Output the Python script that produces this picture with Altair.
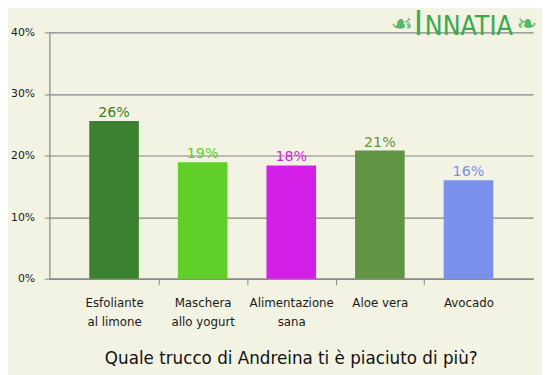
import altair as alt
import pandas as pd

categories = ["Esfoliante\nal limone", "Maschera\nallo yogurt", "Alimentazione\nsana", "Aloe vera", "Avocado"]
values = [0.256, 0.189, 0.184, 0.208, 0.160]
labels = ["26%", "19%", "18%", "21%", "16%"]
colors = ["#3a8230", "#60d028", "#d41fe8", "#629446", "#7b90ec"]
y_ticks = [0, 0.1, 0.2, 0.3, 0.4]

df = pd.DataFrame({"cat": categories, "val": values, "lab": labels, "col": colors})

W, H = 491, 250
BG = "#f3f3e3"
GRID = "#858585"
LOGO = "#3da84e"

x_enc = alt.X(
    "cat:N",
    sort=categories,
    scale=alt.Scale(paddingInner=0.44, paddingOuter=0.45),
    axis=alt.Axis(
        title=None,
        labelAngle=0,
        labelExpr="split(datum.label, '\\n')",
        labelFont="DejaVu Sans",
        labelFontSize=12,
        labelColor="#1a1a1a",
        labelLineHeight=20,
        labelPadding=13,
        labelOffset=-45,
        tickOffset=45,
        tickSize=6,
        tickColor=GRID,
        tickOpacity={"condition": {"test": "datum.value == 'Avocado'", "value": 0}, "value": 1},
        domainColor=GRID,
        domainWidth=1.2,
        grid=False,
    ),
)
y_scale = alt.Scale(domain=[0, 0.4], nice=False)

bars = alt.Chart(df).mark_bar().encode(
    x=x_enc,
    y=alt.Y(
        "val:Q",
        scale=y_scale,
        axis=alt.Axis(
            title=None,
            values=y_ticks,
            format=".0%",
            labelFont="DejaVu Sans",
            labelFontSize=11,
            labelColor="#1a1a1a",
            labelPadding=10,
            tickSize=5,
            tickColor=GRID,
            domainColor=GRID,
            domainWidth=1.2,
            gridColor=GRID,
            gridWidth=1.2,
        ),
    ),
    color=alt.Color("col:N", scale=None),
)

texts = alt.Chart(df).mark_text(
    baseline="bottom", dy=-1, font="DejaVu Sans", fontSize=14.5
).encode(
    x=alt.X("cat:N", sort=categories),
    y=alt.Y("val:Q", scale=y_scale),
    text="lab:N",
    color=alt.Color("col:N", scale=None),
)

logo_df = pd.DataFrame({"t": ["INNATIA"]})
logo_orn_l = alt.Chart(logo_df).mark_text(
    text="☙", align="right", baseline="alphabetic", font="DejaVu Sans", fontSize=25, color="#55b866"
).encode(x=alt.value(369), y=alt.value(0))
logo_big = alt.Chart(logo_df).mark_text(
    text="I", align="left", baseline="alphabetic", font="DejaVu Sans Condensed", fontSize=34, color=LOGO
).encode(x=alt.value(370), y=alt.value(3))
logo_rest = alt.Chart(logo_df).mark_text(
    text="NNATIA", align="left", baseline="alphabetic", font="DejaVu Sans Condensed", fontSize=27, color=LOGO
).encode(x=alt.value(381), y=alt.value(3))
logo_orn_r = alt.Chart(logo_df).mark_text(
    text="❧", align="left", baseline="alphabetic", font="DejaVu Sans", fontSize=25, color="#55b866"
).encode(x=alt.value(474), y=alt.value(0))

chart = (
    alt.layer(bars, texts, logo_orn_l, logo_big, logo_rest, logo_orn_r)
    .properties(
        width=W,
        height=H,
        background=BG,
        padding={"left": 42, "top": 22, "right": 9, "bottom": 95},
        autosize=alt.AutoSizeParams(type="none"),
        title=alt.TitleParams(
            "Quale trucco di Andreina ti è piaciuto di più?",
            orient="bottom",
            anchor="middle",
            font="DejaVu Sans",
            fontSize=17,
            fontWeight="normal",
            color="#111111",
            offset=24,
        ),
    )
    .configure_view(stroke=None)
)

chart.save("out.html", embed_options={"renderer": "svg", "actions": False})
